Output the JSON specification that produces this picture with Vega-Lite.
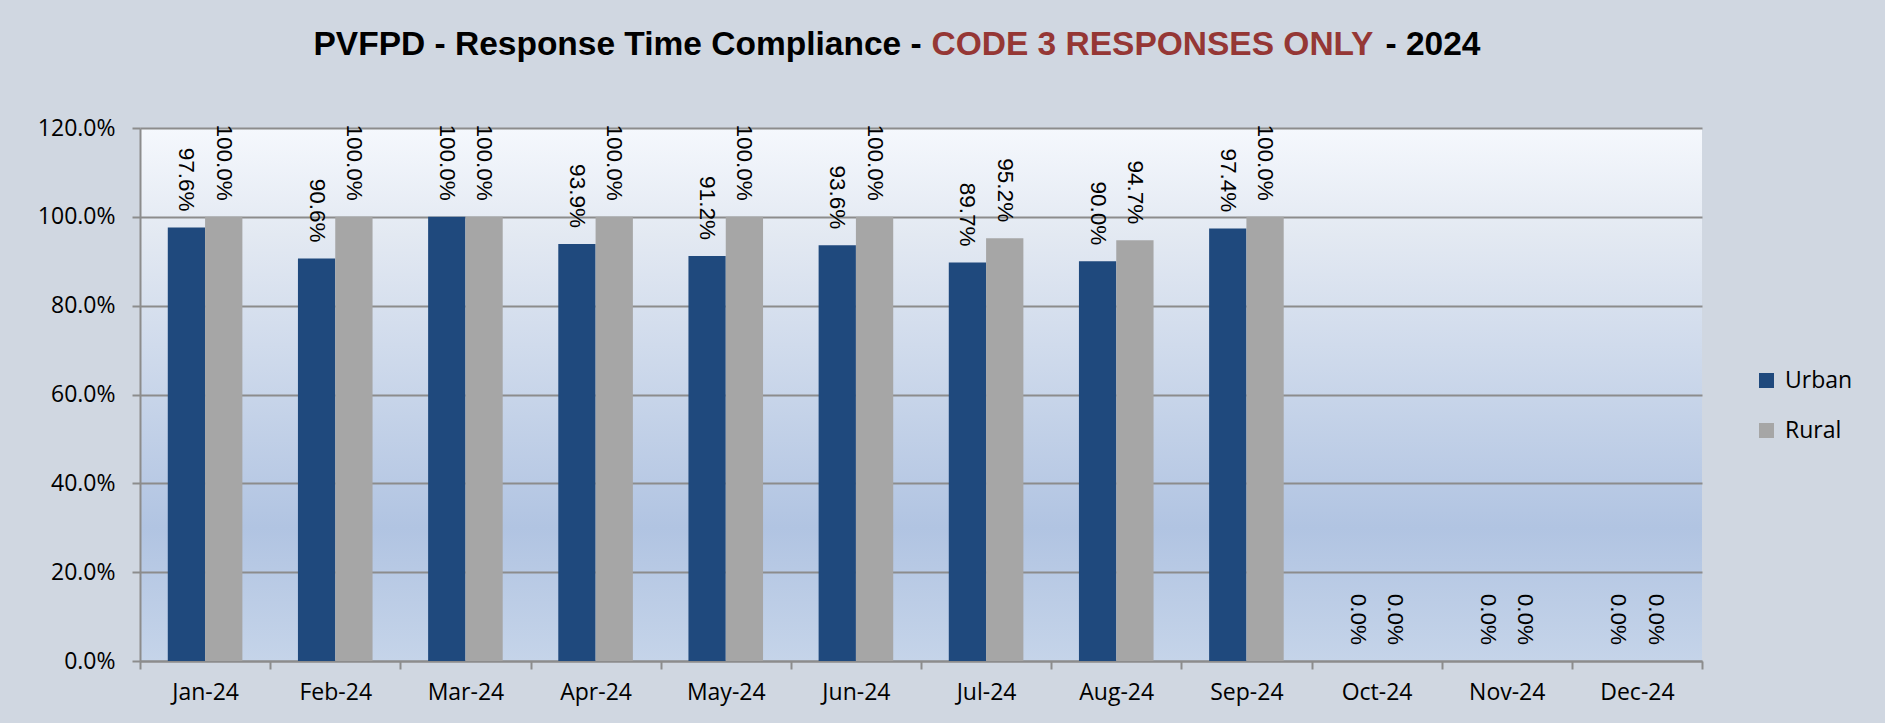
{
  "$schema": "https://vega.github.io/schema/vega-lite/v6.json",
  "width": 1562,
  "height": 533,
  "autosize": {"type": "none"},
  "padding": {"left": 140, "top": 128, "right": 183, "bottom": 62},
  "background": "#d0d7e1",
  "data": {
    "values": [
      {"month": "Jan-24", "area": "Urban", "value": 0.976},
      {"month": "Jan-24", "area": "Rural", "value": 1.0},
      {"month": "Feb-24", "area": "Urban", "value": 0.906},
      {"month": "Feb-24", "area": "Rural", "value": 1.0},
      {"month": "Mar-24", "area": "Urban", "value": 1.0},
      {"month": "Mar-24", "area": "Rural", "value": 1.0},
      {"month": "Apr-24", "area": "Urban", "value": 0.939},
      {"month": "Apr-24", "area": "Rural", "value": 1.0},
      {"month": "May-24", "area": "Urban", "value": 0.912},
      {"month": "May-24", "area": "Rural", "value": 1.0},
      {"month": "Jun-24", "area": "Urban", "value": 0.936},
      {"month": "Jun-24", "area": "Rural", "value": 1.0},
      {"month": "Jul-24", "area": "Urban", "value": 0.897},
      {"month": "Jul-24", "area": "Rural", "value": 0.952},
      {"month": "Aug-24", "area": "Urban", "value": 0.9},
      {"month": "Aug-24", "area": "Rural", "value": 0.947},
      {"month": "Sep-24", "area": "Urban", "value": 0.974},
      {"month": "Sep-24", "area": "Rural", "value": 1.0},
      {"month": "Oct-24", "area": "Urban", "value": 0},
      {"month": "Oct-24", "area": "Rural", "value": 0},
      {"month": "Nov-24", "area": "Urban", "value": 0},
      {"month": "Nov-24", "area": "Rural", "value": 0},
      {"month": "Dec-24", "area": "Urban", "value": 0},
      {"month": "Dec-24", "area": "Rural", "value": 0}
    ]
  },
  "encoding": {
    "x": {
      "field": "month",
      "type": "nominal",
      "sort": null,
      "title": "CODE 3 RESPONSES ONLY",
      "scale": {"paddingInner": 0, "paddingOuter": 0},
      "axis": {
        "title": "CODE 3 RESPONSES ONLY",
        "titleX": 791,
        "titleY": -607,
        "titleAlign": "left",
        "titleAnchor": "start",
        "titleBaseline": "alphabetic",
        "titleFont": "Liberation Sans",
        "titleFontSize": 33.5,
        "titleFontWeight": "bold",
        "titleColor": "#953735",
        "labelAngle": 0,
        "tickBand": "extent",
        "grid": false,
        "domainColor": "#8c8c8c",
        "domainWidth": 2,
        "tickColor": "#8c8c8c",
        "tickWidth": 2,
        "tickSize": 8,
        "labelFont": "Open Sans",
        "labelFontSize": 23,
        "labelColor": "#000000",
        "labelPadding": 12
      }
    },
    "xOffset": {
      "field": "area",
      "type": "nominal",
      "sort": ["Urban", "Rural"],
      "scale": {"paddingInner": 0, "paddingOuter": 0.745}
    }
  },
  "layer": [
    {
      "mark": {"type": "bar"},
      "encoding": {
        "y": {
          "field": "value",
          "type": "quantitative",
          "title": "PVFPD - Response Time Compliance -",
          "scale": {"domain": [0, 1.2], "nice": false},
          "axis": {
            "orient": "left",
            "title": "PVFPD - Response Time Compliance -",
            "titleX": 173,
            "titleY": -74,
            "titleAngle": 0,
            "titleAlign": "left",
            "titleAnchor": "start",
            "titleBaseline": "alphabetic",
            "titleFont": "Liberation Sans",
            "titleFontSize": 33.5,
            "titleFontWeight": "bold",
            "titleColor": "#000000",
            "format": ".1%",
            "values": [0, 0.2, 0.4, 0.6, 0.8, 1.0, 1.2],
            "grid": true,
            "gridColor": "#8c8c8c",
            "gridWidth": 2,
            "domainColor": "#8c8c8c",
            "domainWidth": 2,
            "tickColor": "#8c8c8c",
            "tickWidth": 2,
            "tickSize": 8,
            "labelFont": "Open Sans",
            "labelFontSize": 23,
            "labelColor": "#000000",
            "labelPadding": 17
          }
        },
        "color": {
          "field": "area",
          "type": "nominal",
          "sort": ["Urban", "Rural"],
          "scale": {"domain": ["Urban", "Rural"], "range": ["#1f497d", "#a6a6a6"]},
          "legend": {
            "title": null,
            "orient": "none",
            "legendX": 1615,
            "legendY": 241,
            "padding": 0,
            "symbolType": "square",
            "symbolSize": 225,
            "symbolStrokeWidth": 0,
            "labelFont": "Open Sans",
            "labelFontSize": 23,
            "labelColor": "#000000",
            "labelOffset": 7,
            "rowPadding": 26
          }
        }
      }
    },
    {
      "mark": {
        "type": "text",
        "angle": 90,
        "align": "right",
        "baseline": "middle",
        "dx": -16,
        "font": "Liberation Sans",
        "fontSize": 22.5,
        "color": "#000000"
      },
      "encoding": {
        "y": {
          "field": "value",
          "type": "quantitative",
          "title": "- 2024",
          "scale": {"domain": [0, 1.2], "nice": false},
          "axis": {
            "orient": "right",
            "title": "- 2024",
            "titleX": -317,
            "titleY": -74,
            "titleAngle": 0,
            "titleAlign": "left",
            "titleAnchor": "start",
            "titleBaseline": "alphabetic",
            "titleFont": "Liberation Sans",
            "titleFontSize": 33.5,
            "titleFontWeight": "bold",
            "titleColor": "#000000",
            "labels": false,
            "ticks": false,
            "domain": false,
            "grid": false
          }
        },
        "text": {"field": "value", "type": "quantitative", "format": ".1%"}
      }
    }
  ],
  "resolve": {"axis": {"y": "independent"}},
  "config": {
    "view": {
      "stroke": null,
      "fill": {
        "gradient": "linear",
        "x1": 0, "y1": 0, "x2": 0, "y2": 1,
        "stops": [
          {"offset": 0, "color": "#f5f8fd"},
          {"offset": 0.2, "color": "#e3e9f2"},
          {"offset": 0.75, "color": "#b1c4e2"},
          {"offset": 1, "color": "#c5d4e9"}
        ]
      }
    }
  }
}
